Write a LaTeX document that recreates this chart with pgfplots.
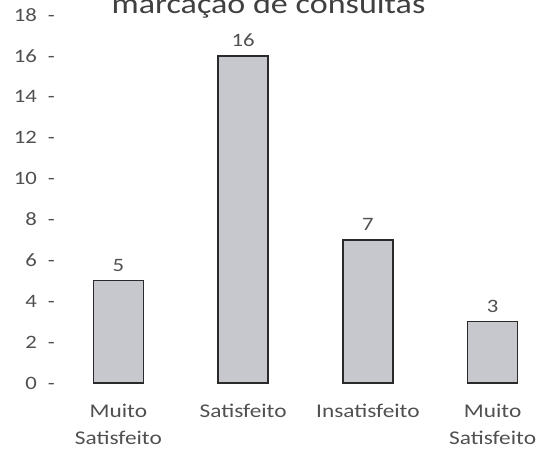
\documentclass[border=0pt]{standalone}
\usepackage{fontspec}
\setmainfont{Carlito}
\usepackage{pgfplots}
\pgfplotsset{compat=1.18}
\definecolor{tickgray}{HTML}{505050}
\definecolor{titlegray}{HTML}{404040}
\definecolor{barfill}{HTML}{C6C8CE}
\definecolor{baredge}{HTML}{2A2A2A}
\begin{document}
\begin{tikzpicture}[x=1bp,y=1bp]
\begin{axis}[
  at={(68.5bp,71bp)}, anchor=south west,
  scale only axis, width=474bp, height=368bp,
  xmin=-0.4, xmax=3.4, ymin=0, ymax=18,
  axis line style={draw=none},
  tick style={draw=none},
  clip=false,
  /pgf/number format/assume math mode=true,
  ytick={0,2,...,18},
  yticklabel={\pgfmathprintnumber{\tick}\hspace{9bp}-},
  yticklabel style={anchor=east, inner sep=0pt, xshift=-13.5bp, xscale=1.2, text=tickgray, font=\fontsize{19}{23}\selectfont},
  xtick={0,1,2,3},
  xticklabels={{Muito\\Satisfeito},{Satisfeito},{Insatisfeito},{Muito\\Satisfeito}},
  xticklabel style={anchor=north, align=center, inner sep=0pt, yshift=-21bp, xscale=1.2, text=tickgray, font=\fontsize{19.5}{27}\selectfont},
  major tick length=0pt,
  ybar, bar width=50bp,
  nodes near coords,
  every node near coord/.append style={text=tickgray, font=\fontsize{19}{22}\selectfont, xscale=1.2, yshift=5bp},
]
\addplot[fill=barfill, draw=baredge, line width=1.3bp] coordinates {(0,5) (1,16) (2,7) (3,3)};
\end{axis}
\node[anchor=base, text=titlegray, font=\fontsize{28.5}{34}\selectfont, xscale=1.2, inner sep=0pt] at (268.5bp,440bp) {marcação de consultas};
\pgfresetboundingbox
\useasboundingbox (0,0) rectangle (546bp,454bp);
\end{tikzpicture}
\end{document}
